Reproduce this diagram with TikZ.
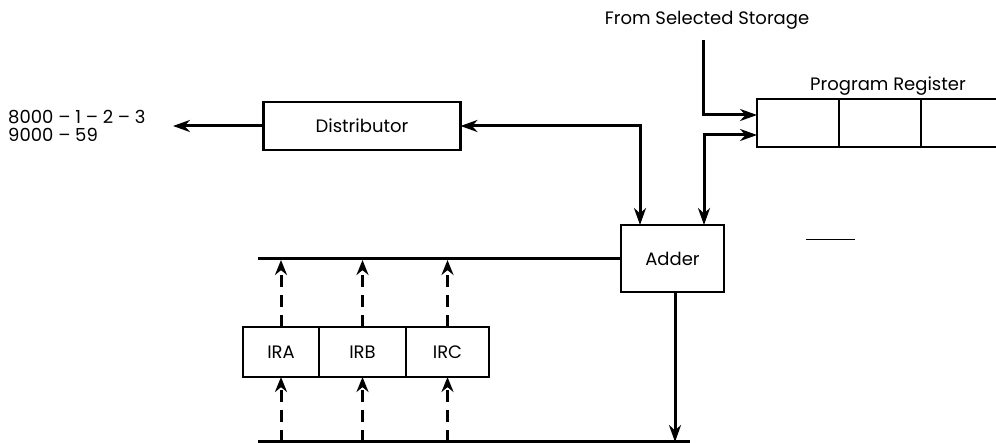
\documentclass[tikz,border=0pt]{standalone}
\usepackage{fontspec}
\setmainfont{Poppins}
\usetikzlibrary{arrows.meta,positioning}
\tikzset{
  blk/.style = {draw=black, line width=2.2pt, inner sep=0pt, outer sep=0pt, align=center, font=\fontsize{18}{18}\selectfont},
  cell_pr/.style = {blk, minimum width=82pt, minimum height=48pt},
  cell_ir/.style = {blk, minimum height=50pt},
  lbl/.style = {inner sep=0pt, font=\fontsize{18}{18}\selectfont},
  bus/.style = {line width=3.2pt},
  flow/.style = {line width=3pt, -{Stealth[length=17pt,width=12pt]}},
  flow_2/.style = {line width=3pt, {Stealth[length=17pt,width=12pt]}-{Stealth[length=17pt,width=12pt]}},
  idx/.style = {line width=3pt, dash pattern=on 12pt off 8pt, -{Stealth[length=15pt,width=12pt]}},
}

\begin{document}
\begin{tikzpicture}[x=1pt, y=-1pt]
  \clip (0,0) rectangle (996,443);

  % boxes
  \node [blk, minimum width=197pt, minimum height=48pt] (dist) at (362,126) {Distributor};
  \node [blk, minimum width=103pt, minimum height=67pt] (adder) at (672.5,258.5) {Adder};

  \node [cell_pr] (pr_a) at (798,123) {};
  \node [cell_pr, right=0pt of pr_a] (pr_b) {};
  \node [cell_pr, right=0pt of pr_b] (pr_c) {};

  \node [cell_ir, minimum width=76pt] (ira) at (281,352) {IRA};
  \node [cell_ir, minimum width=87pt, right=0pt of ira] (irb) {IRB};
  \node [cell_ir, minimum width=83pt, right=0pt of irb] (irc) {IRC};

  % texts
  \node [lbl] (src) at (707,20) {From Selected Storage};
  \node [lbl] (pr_lbl) at (888,86) {Program Register};
  \node [lbl, align=left, anchor=north west] (dest) at (8,110) {8000 -- 1 -- 2 -- 3\\9000 -- 59};

  \coordinate (src_in) at (703,40);
  \coordinate (dest_in) at (173,127);
  \coordinate (bus_a) at (258,260);
  \coordinate (bus_b) at (258,442);
  \coordinate (bus_b_end) at (690,442);

  % connectors
  \draw [flow] (src_in) |- ([yshift=8pt]pr_a.west);
  \draw [flow_2] ([yshift=-12pt]pr_a.west) -| ([xshift=31.5pt]adder.north);
  \draw [flow_2] (dist.east) -| ([xshift=-32.5pt]adder.north);
  \draw [flow] (dist.west) -- (dist.west -| dest_in);

  \draw [bus] (adder.west) -- (adder.west -| bus_a);
  \draw [bus] (bus_b) -- (bus_b_end);
  \draw [flow] ([xshift=2.5pt]adder.south) -- ([xshift=2.5pt]adder.south |- bus_b);

  \foreach \r in {ira, irb, irc} {
    \draw [idx] (\r.north) -- (\r.north |- bus_a);
    \draw [idx] (\r.south |- bus_b) -- (\r.south);
  }

  \draw [line width=0.8pt] (806,239) -- (855,239);
\end{tikzpicture}
\end{document}
